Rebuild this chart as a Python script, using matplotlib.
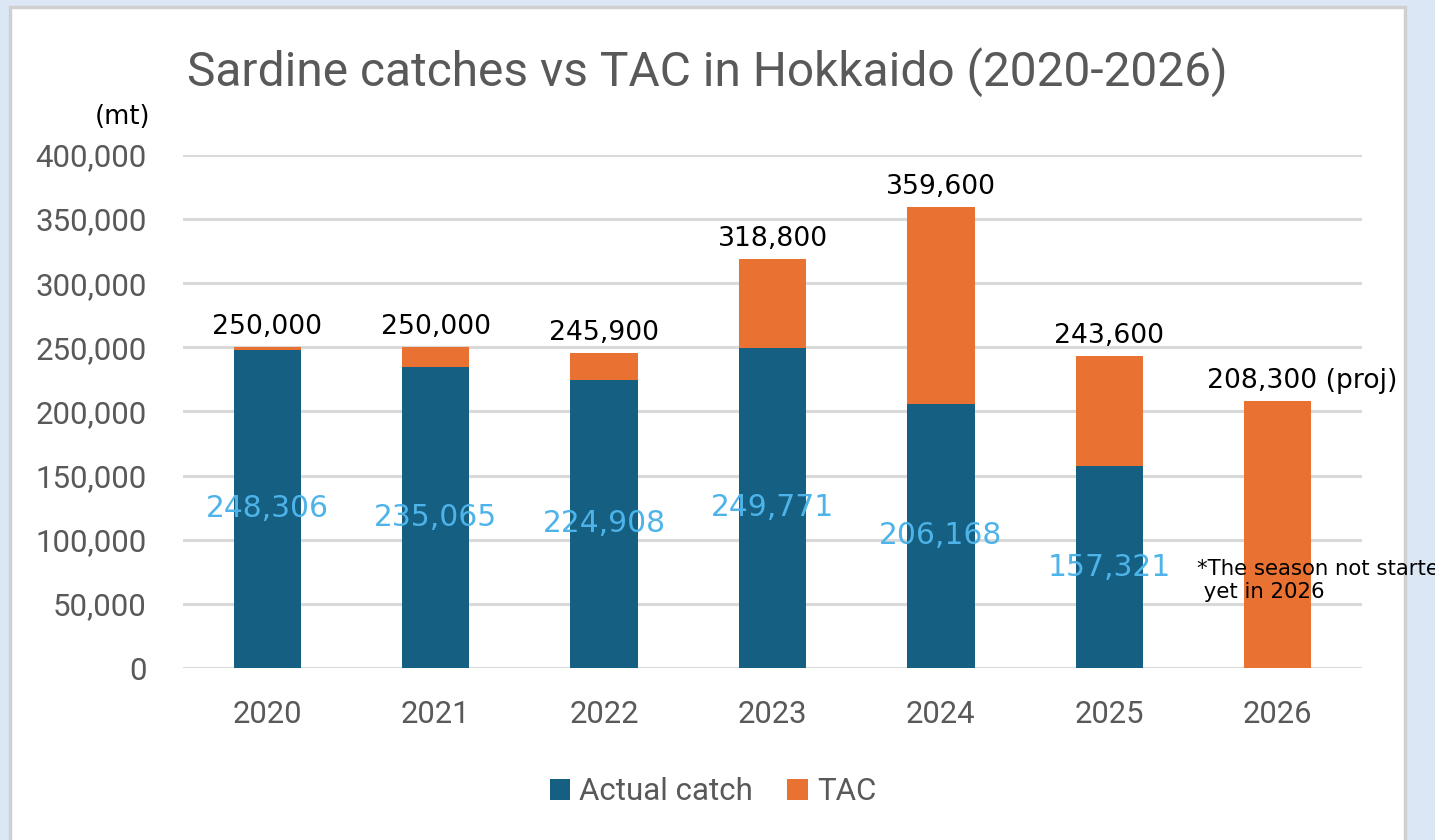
import matplotlib
matplotlib.use("Agg")
import matplotlib.pyplot as plt
from matplotlib.patches import Rectangle
from matplotlib.ticker import FuncFormatter

years = ["2020", "2021", "2022", "2023", "2024", "2025", "2026"]
actual_catch = [248306, 235065, 224908, 249771, 206168, 157321, 0]
tac_total = [250000, 250000, 245900, 318800, 359600, 243600, 208300]
total_labels = ["250,000", "250,000", "245,900", "318,800", "359,600", "243,600", "208,300 (proj)"]
catch_labels = ["248,306", "235,065", "224,908", "249,771", "206,168", "157,321", ""]
tac_remainder = [t - c for t, c in zip(tac_total, actual_catch)]

title = "Sardine catches vs TAC in Hokkaido (2020-2026)"
note = "*The season not started\n yet in 2026"

C_CATCH = "#156082"
C_TAC = "#E97132"
C_LABEL = "#4DB3E8"
C_GRAY = "#595959"
C_GRID = "#D9D9D9"

W, H = 1435, 840
fig = plt.figure(figsize=(W / 100, H / 100), dpi=100)
fig.patch.set_facecolor("#DCE7F6")

panel = Rectangle((10 / W, -0.01), (1405 - 10) / W, 1 - 7 / H + 0.01,
                  transform=fig.transFigure, facecolor="white",
                  edgecolor="#D0D0D0", linewidth=2.5, zorder=-5)
fig.patches.append(panel)

ax = fig.add_axes([183 / W, 1 - 668 / H, (1362 - 183) / W, (668 - 155) / H])
ax.set_zorder(2)
ax.set_facecolor("none")
x = list(range(len(years)))
ax.bar(x, actual_catch, width=0.4, color=C_CATCH, label="Actual catch", zorder=2)
ax.bar(x, tac_remainder, width=0.4, bottom=actual_catch, color=C_TAC, label="TAC", zorder=2)

ax.set_xlim(-0.5, 6.5)
ax.set_ylim(0, 400000)
ax.set_yticks(range(0, 400001, 50000))
ax.yaxis.set_major_formatter(FuncFormatter(lambda v, p: f"{int(v):,}"))
ax.grid(axis="y", color=C_GRID, linewidth=2.2)
ax.set_axisbelow(True)
for s in ax.spines.values():
    s.set_visible(False)
ax.tick_params(axis="both", length=0, labelcolor=C_GRAY)
ax.tick_params(axis="y", pad=26, labelsize=22.5)
ax.tick_params(axis="x", pad=23, labelsize=22.3)
ax.set_xticks(x)
ax.set_xticklabels(years)
for lab in ax.get_xticklabels() + ax.get_yticklabels():
    lab.set_family("Roboto")

for i in x:
    if i < 6:
        ax.annotate(total_labels[i], (i, tac_total[i]), xytext=(0, 5),
                    textcoords="offset points", ha="center", va="bottom",
                    fontsize=19.2, color="black", family="DejaVu Sans")
    else:
        ax.annotate(total_labels[i], (i - 0.42, tac_total[i]), xytext=(0, 5),
                    textcoords="offset points", ha="left", va="bottom",
                    fontsize=19.2, color="black", family="DejaVu Sans",
                    annotation_clip=False)
    if catch_labels[i]:
        ax.text(i, actual_catch[i] / 2, catch_labels[i], ha="center", va="center",
                fontsize=21.4, color=C_LABEL, family="DejaVu Sans", zorder=3)

ax.text(5.52, 68500, note, ha="left", va="center", fontsize=15.3,
        color="black", family="DejaVu Sans", linespacing=1.2, zorder=4,
        clip_on=False)

fig.text(707 / W, 1 - 72 / H, title, ha="center", va="center",
         fontsize=34.5, color=C_GRAY, family="Roboto")
fig.text(150 / W, 1 - 117 / H, "(mt)", ha="right", va="center",
         fontsize=18.5, color="black", family="DejaVu Sans")

leg = fig.legend(loc="center", bbox_to_anchor=(713 / W, 1 - 792 / H), ncol=2,
                 frameon=False, handlelength=0.65, handleheight=0.65,
                 handletextpad=0.3, columnspacing=1.1,
                 prop={"family": "Roboto", "size": 22.5})
for txt in leg.get_texts():
    txt.set_color(C_GRAY)

fig.savefig("out.png", dpi=100, facecolor=fig.get_facecolor())
